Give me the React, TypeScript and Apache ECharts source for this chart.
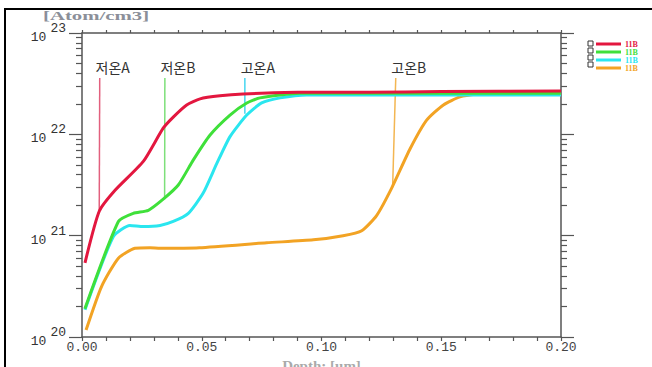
import React, { useEffect, useRef } from 'react';
import * as echarts from 'echarts';

// ---- Data ----
const seriesNames = ['11B', '11B', '11B', '11B'];
const seriesColors = ['#e3173f', '#3fe03a', '#2ae6ef', '#f2a324'];

const redDepth = [0.00125, 0.0072, 0.0138, 0.0256, 0.0339, 0.0381, 0.0437, 0.0493, 0.0576, 0.0672, 0.09, 0.12, 0.15, 0.2];
const redConc = [5.4e20, 1.74e21, 2.8e21, 5.4e21, 1.15e22, 1.48e22, 1.95e22, 2.24e22, 2.4e22, 2.5e22, 2.6e22, 2.6e22, 2.65e22, 2.68e22];

const greenDepth = [0.0012, 0.0152, 0.0214, 0.0277, 0.0339, 0.0402, 0.0465, 0.0534, 0.0618, 0.0688, 0.0743, 0.091, 0.12, 0.2];
const greenConc = [1.9e20, 1.38e21, 1.66e21, 1.78e21, 2.29e21, 3.16e21, 5.6e21, 9.8e21, 1.55e22, 2.04e22, 2.29e22, 2.55e22, 2.55e22, 2.55e22];

const cyanDepth = [0.00125, 0.0131, 0.02, 0.0256, 0.0326, 0.0381, 0.0444, 0.0506, 0.0562, 0.0618, 0.0688, 0.075, 0.0827, 0.0938, 0.2];
const cyanConc = [1.86e20, 9.8e20, 1.26e21, 1.23e21, 1.26e21, 1.38e21, 1.66e21, 2.63e21, 5.1e21, 9.5e21, 1.55e22, 2.04e22, 2.29e22, 2.45e22, 2.45e22];

const orangeDepth = [0.0017, 0.0082, 0.0152, 0.0221, 0.0284, 0.0326, 0.049, 0.0771, 0.0966, 0.109, 0.1168, 0.123, 0.1293, 0.137, 0.1439, 0.1509, 0.1578, 0.1648, 0.175, 0.2];
const orangeConc = [1.17e20, 3.16e20, 6.0e20, 7.5e20, 7.6e20, 7.5e20, 7.6e20, 8.5e20, 9.1e20, 1.0e21, 1.12e21, 1.58e21, 2.95e21, 7.2e21, 1.38e22, 1.95e22, 2.34e22, 2.5e22, 2.6e22, 2.6e22];

const seriesDepths = [redDepth, greenDepth, cyanDepth, orangeDepth];
const seriesConcs = [redConc, greenConc, cyanConc, orangeConc];

const annotationLabels = ['저온A', '저온B', '고온A', '고온B'];
const annotationTopDepth = [0.0074, 0.0346, 0.068, 0.131];
const annotationBottomDepth = [0.0072, 0.0345, 0.068, 0.1297];
const annotationTopConc = [3.6e22, 3.6e22, 3.6e22, 3.6e22];
const annotationBottomConc = [1.74e21, 2.29e21, 1.6e22, 3.0e21];
const annotationColors = ['#e2607e', '#7ee07a', '#45d6f0', '#f3b652'];

const xTickLabelDigits = 2;

export default function App() {
  const ref = useRef<HTMLDivElement>(null);

  useEffect(() => {
    if (!ref.current) return;
    const chart = echarts.init(ref.current, null, { renderer: 'svg' });

    const axisColor = '#555';
    const mono = 'Liberation Mono';
    // unique internal names so each legend row is kept; trailing spaces are trimmed on display
    const keys = seriesNames.map((n, i) => n + ' '.repeat(i));

    const mainSeries = seriesDepths
      .map((d, i) => ({
        type: 'line',
        name: keys[i],
        data: d.map((x, j) => [x, seriesConcs[i][j]]),
        showSymbol: false,
        symbol: 'none',
        smooth: 0.2,
        lineStyle: { color: seriesColors[i], width: 3 },
        itemStyle: { color: seriesColors[i] },
        z: 3,
      }))
      .reverse();

    const annoSeries = annotationLabels.map((lab, i) => ({
      type: 'line',
      name: lab,
      data: [
        {
          value: [annotationTopDepth[i], annotationTopConc[i]],
          label: {
            show: true,
            formatter: lab,
            position: 'top',
            distance: 4,
            offset: [13, 0],
            fontFamily: 'Noto Sans CJK KR',
            fontSize: 14,
            color: '#333',
          },
        },
        { value: [annotationBottomDepth[i], annotationBottomConc[i]], label: { show: false } },
      ],
      symbol: 'circle',
      symbolSize: 0.01,
      showSymbol: true,
      lineStyle: { color: annotationColors[i], width: 1.5 },
      itemStyle: { color: annotationColors[i] },
      z: 2,
    }));

    const legendBoxes = seriesNames.map((n, i) => ({
      type: 'rect',
      shape: { x: 588, y: 41 + i * 7, width: 5, height: 5 },
      style: { fill: '#fff', stroke: '#333', lineWidth: 1 },
    }));

    const yAxisBase = {
      type: 'log',
      logBase: 10,
      min: 1e20,
      max: 1e23,
      splitNumber: 3,
      axisLine: { show: true, onZero: false, lineStyle: { color: axisColor, width: 1.5 } },
      axisTick: { show: true, inside: false, length: 13, lineStyle: { color: axisColor, width: 1.2 } },
      minorTick: { show: true, splitNumber: 9, length: 6, lineStyle: { color: axisColor, width: 1.2 } },
      splitLine: { show: false },
      minorSplitLine: { show: false },
    };

    const option: any = {
      animation: false,
      backgroundColor: '#fff',
      grid: { left: 82, top: 33, right: 91, bottom: 30, outerBoundsMode: 'none' },
      legend: {
        orient: 'vertical',
        left: 596,
        top: 40,
        padding: 0,
        itemGap: 0,
        itemWidth: 25,
        itemHeight: 3,
        icon: 'rect',
        selectedMode: false,
        data: keys.map((k, i) => ({
          name: k,
          textStyle: { color: seriesColors[i] },
        })),
        formatter: (name: string) => name.trim(),
        textStyle: {
          fontFamily: 'Liberation Serif',
          fontWeight: 'bold',
          fontSize: 8,
          lineHeight: 7,
          padding: [0, 0, 0, -1],
        },
      },
      xAxis: [
        {
          type: 'value',
          position: 'bottom',
          min: 0,
          max: 0.2,
          interval: 0.05,
          name: 'Depth: [um]',
          nameLocation: 'middle',
          nameGap: 21,
          nameTextStyle: { fontFamily: 'Liberation Serif', fontWeight: 'bold', fontSize: 15, color: '#aaa' },
          axisLine: { show: true, onZero: false, lineStyle: { color: axisColor, width: 1.5 } },
          axisTick: { show: true, inside: false, length: 4, lineStyle: { color: axisColor, width: 1.2 } },
          minorTick: { show: true, splitNumber: 5, length: 4, lineStyle: { color: axisColor, width: 1.2 } },
          axisLabel: {
            margin: 4,
            fontFamily: mono,
            fontSize: 13,
            color: '#444',
            formatter: (v: number) => v.toFixed(xTickLabelDigits),
          },
          splitLine: { show: false },
        },
        {
          type: 'value',
          position: 'top',
          min: 0,
          max: 0.2,
          interval: 0.01,
          axisLine: { show: true, onZero: false, lineStyle: { color: axisColor, width: 1.5 } },
          axisTick: { show: true, inside: false, length: 3, lineStyle: { color: axisColor, width: 1.2 } },
          axisLabel: { show: false },
          splitLine: { show: false },
        },
      ],
      yAxis: [
        {
          ...yAxisBase,
          position: 'left',
          axisLabel: {
            margin: 16,
            formatter: (v: number) => `{b|10}{s|${Math.round(Math.log10(v))}}`,
            rich: {
              b: { fontFamily: mono, fontSize: 13, color: '#333', verticalAlign: 'bottom', lineHeight: 22 },
              s: { fontFamily: mono, fontSize: 13, color: '#333', verticalAlign: 'top', lineHeight: 22, padding: [0, 0, 0, 4] },
            },
          },
        },
        {
          ...yAxisBase,
          position: 'right',
          axisLabel: { show: false },
        },
      ],
      series: [...annoSeries, ...mainSeries],
      graphic: [
        {
          type: 'rect',
          shape: { x: 5, y: 9, width: 700, height: 420 },
          style: { fill: 'none', stroke: '#000', lineWidth: 2 },
          z: -1,
        },
        {
          type: 'text',
          x: 43,
          y: 9,
          scaleX: 1.6,
          style: {
            text: '[Atom/cm3]',
            font: 'bold 13px "Liberation Serif"',
            fill: '#8b8f99',
          },
        },
        ...legendBoxes,
      ],
    };

    chart.setOption(option);
    return () => chart.dispose();
  }, []);

  return (
    <div
      ref={ref}
      style={{ position: 'fixed', left: 0, top: 0, width: 652, height: 367, background: '#fff' }}
    />
  );
}
